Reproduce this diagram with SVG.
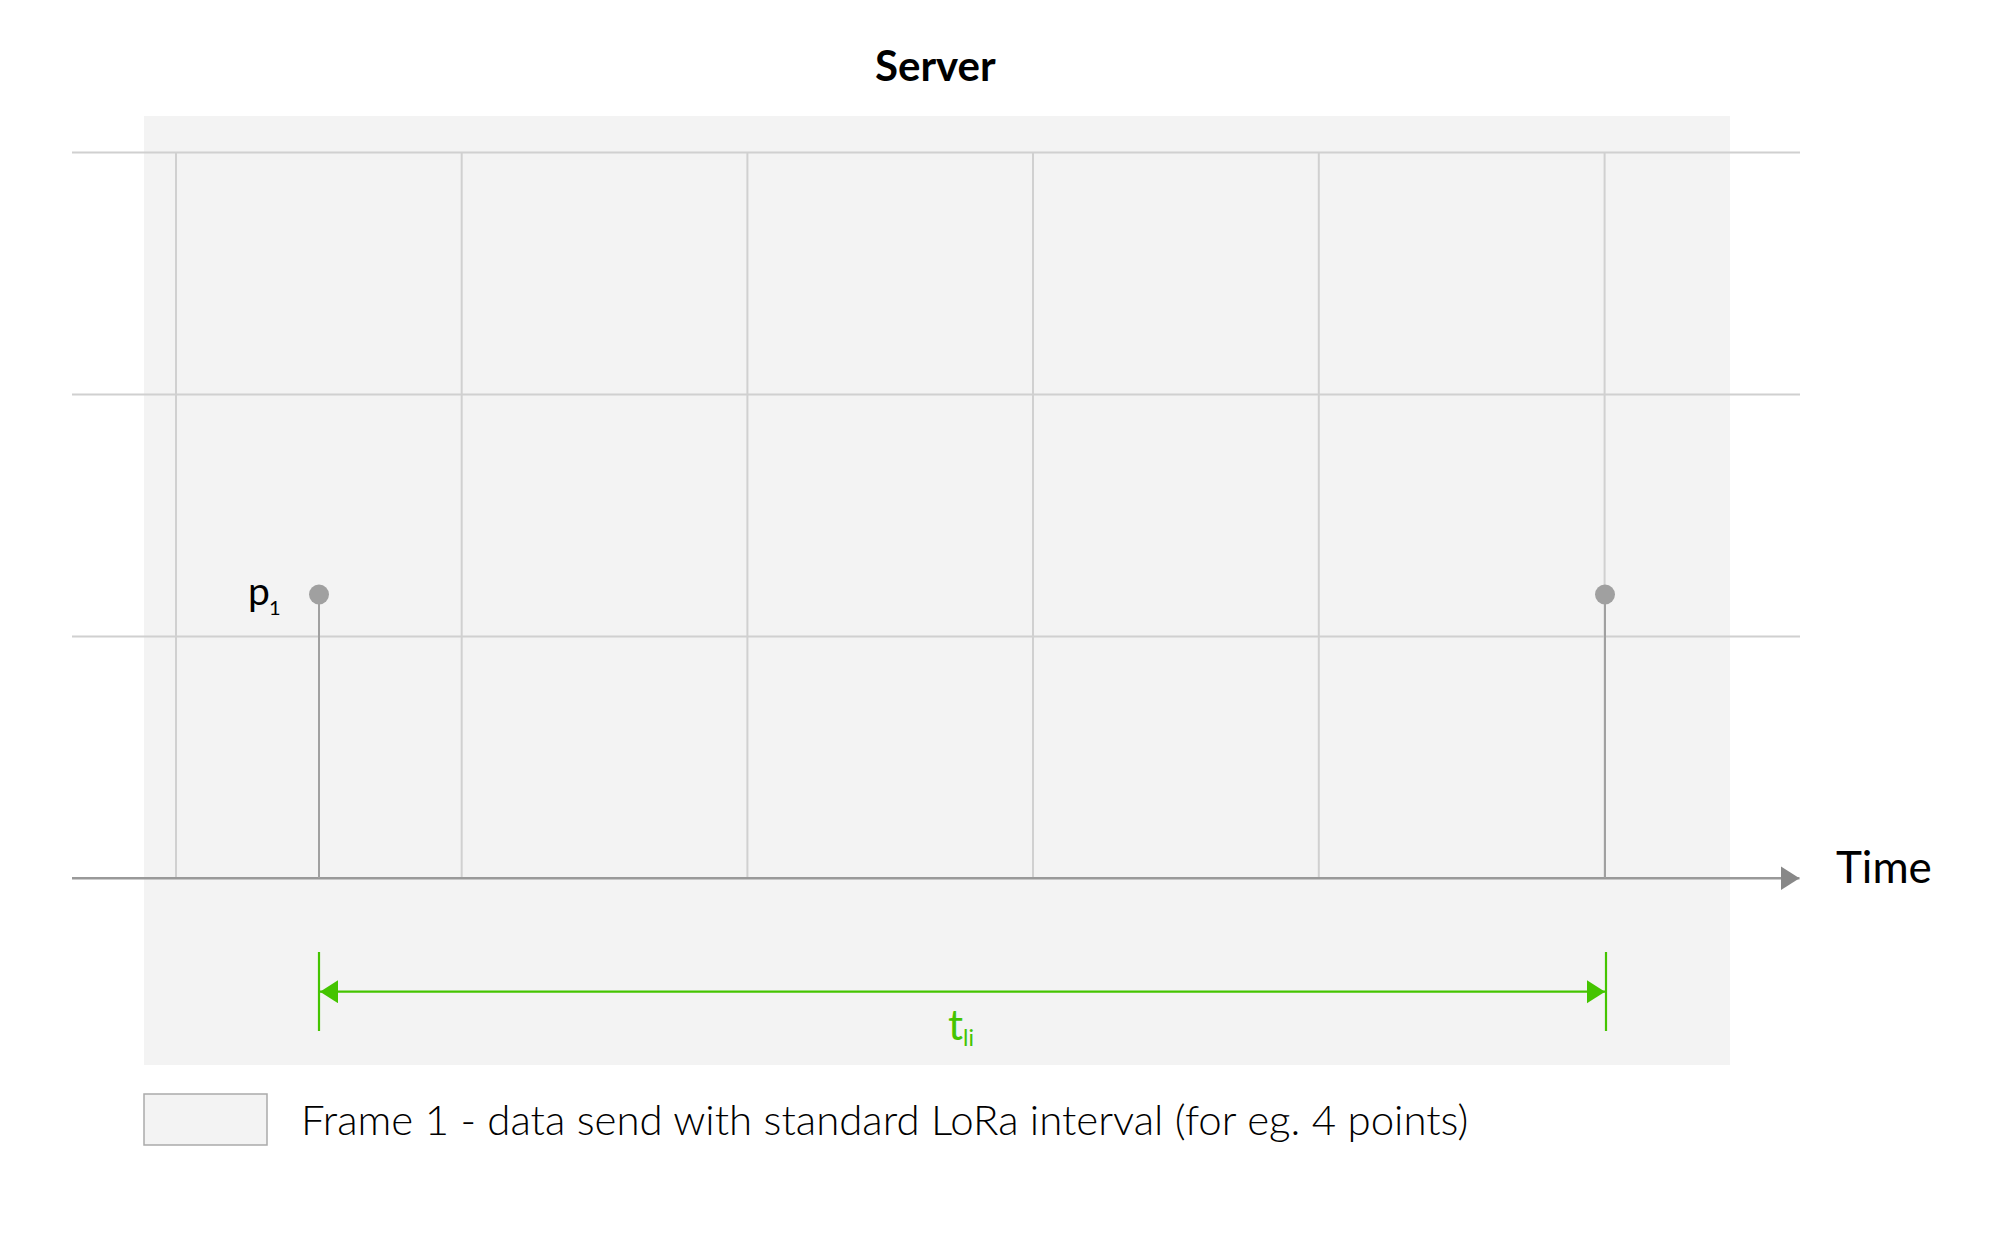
<svg xmlns="http://www.w3.org/2000/svg" width="2001" height="1256" viewBox="0 0 2001 1256">
<style>
.grid{stroke:#d0d0d0;stroke-width:2;fill:none}
.axis{stroke:#999;stroke-width:2.5;fill:none}
.stem{stroke:#a0a0a0;stroke-width:2;fill:none}
.dot{fill:#a0a0a0}
.dim{stroke:#44c400;stroke-width:2.2;fill:none}
.lab{font-family:Lato,"Liberation Sans",sans-serif;fill:#000}
.light{font-family:"Lato Light",Lato,"Liberation Sans",sans-serif;font-weight:300;fill:#000}
.green{font-family:Lato,"Liberation Sans",sans-serif;fill:#44c400}
</style>
<defs>
<marker id="axArrow" markerUnits="userSpaceOnUse" markerWidth="20" markerHeight="24" refX="19" refY="12" orient="auto">
<path d="M0,0 L19,12 L0,24 Z" fill="#888"/>
</marker>
<marker id="gArrow" markerUnits="userSpaceOnUse" markerWidth="18" markerHeight="24" refX="18" refY="11.5" orient="auto-start-reverse">
<path d="M0,0 L18,11.5 L0,23 Z" fill="#44c400"/>
</marker>
</defs>
<rect width="2001" height="1256" fill="#fff"/>
<g id="frame">
<rect x="144" y="116" width="1586" height="949" fill="#f3f3f3"/>
</g>
<g id="grid">
<line class="grid" x1="72" y1="152.5" x2="1800" y2="152.5"/>
<line class="grid" x1="72" y1="394.5" x2="1800" y2="394.5"/>
<line class="grid" x1="72" y1="636.5" x2="1800" y2="636.5"/>
<line class="grid" x1="176" y1="152.5" x2="176" y2="878"/>
<line class="grid" x1="461.7" y1="152.5" x2="461.7" y2="878"/>
<line class="grid" x1="747.4" y1="152.5" x2="747.4" y2="878"/>
<line class="grid" x1="1033" y1="152.5" x2="1033" y2="878"/>
<line class="grid" x1="1318.8" y1="152.5" x2="1318.8" y2="878"/>
<line class="grid" x1="1604.6" y1="152.5" x2="1604.6" y2="878"/>
</g>
<g id="title">
<text class="lab" x="875" y="81" font-size="42" font-weight="700">Server</text>
</g>
<g id="connectors">
<line class="axis" x1="72" y1="878.3" x2="1799.5" y2="878.3" marker-end="url(#axArrow)"/>
<line class="stem" x1="319" y1="594.5" x2="319" y2="878"/>
<line class="stem" x1="1605" y1="594.5" x2="1605" y2="878"/>
<line class="dim" x1="319" y1="952" x2="319" y2="1031"/>
<line class="dim" x1="1606" y1="952" x2="1606" y2="1031"/>
<line class="dim" x1="320" y1="991.7" x2="1605" y2="991.7" marker-start="url(#gArrow)" marker-end="url(#gArrow)"/>
</g>
<g id="p1">
<circle class="dot" cx="319" cy="594.5" r="10"/>
<text class="lab" x="248" y="605" font-size="39">p<tspan font-size="20" dx="-1" dy="10">1</tspan></text>
</g>
<g id="p2">
<circle class="dot" cx="1605" cy="594.5" r="10"/>
</g>
<g id="time">
<text class="lab" x="1836" y="883" font-size="44">Time</text>
</g>
<g id="tli">
<text class="green" x="948" y="1040" font-size="42">t<tspan font-size="23" dy="6">li</tspan></text>
</g>
<g id="legend">
<rect x="144" y="1094" width="123" height="51" fill="#f3f3f3" stroke="#aaa" stroke-width="1.5"/>
<text class="light" x="301" y="1135" font-size="42">Frame 1 - data send with standard LoRa interval (for eg. 4 points)</text>
</g>
</svg>
